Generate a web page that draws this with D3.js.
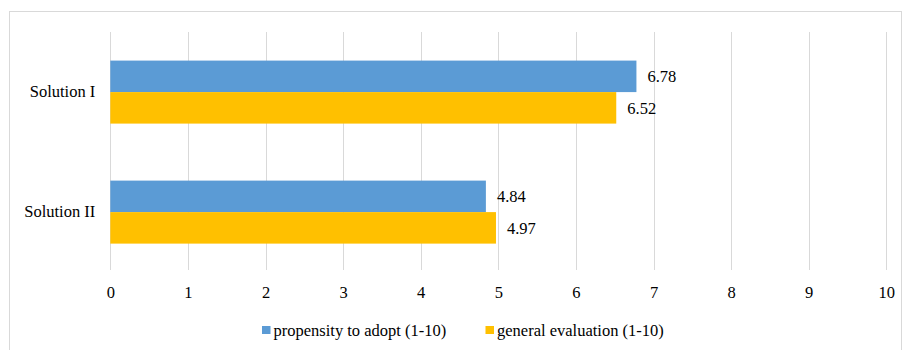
<!DOCTYPE html>
<html>
<head>
<meta charset="utf-8">
<script src="https://cdn.jsdelivr.net/npm/d3@7"></script>
<style>
  html, body { margin: 0; padding: 0; background: #fff; }
  svg { display: block; }
  svg text { font-family: "Liberation Serif", "Times New Roman", Tinos, "DejaVu Serif", serif; fill: #000; }
</style>
</head>
<body>
<script>
// Survey scores per solution
const categories = ["Solution I", "Solution II"];
const seriesNames = ["propensity to adopt (1-10)", "general evaluation (1-10)"];
const propensity = [6.78, 4.84];
const evaluation = [6.52, 4.97];
const tickValues = [0, 1, 2, 3, 4, 5, 6, 7, 8, 9, 10];
const colors = ["#5B9BD5", "#FFC000"];

const W = 903, H = 350;
const plot = { left: 110.3, right: 886.3, top: 32, bottom: 270 };
const FONT = '"Liberation Serif", "Times New Roman", Tinos, "DejaVu Serif", serif';
const FS = 16.5;

const svg = d3.select("body").append("svg").attr("width", W).attr("height", H);

// chart frame
svg.append("rect")
  .attr("x", 9.5).attr("y", 11.5)
  .attr("width", 892).attr("height", 345)
  .attr("fill", "#fff").attr("stroke", "#D9D9D9").attr("stroke-width", 1);

const x = d3.scaleLinear().domain([0, 10]).range([plot.left, plot.right]);
const y = d3.scaleBand().domain(categories).range([plot.top, plot.bottom])
  .paddingInner(0.475).paddingOuter(0.229).align(0.52);
const ySub = d3.scaleBand().domain([0, 1]).range([0, y.bandwidth()]);

// vertical gridlines
svg.append("g").selectAll("line").data(tickValues).join("line")
  .attr("x1", d => Math.round(x(d)) + 0.5).attr("x2", d => Math.round(x(d)) + 0.5)
  .attr("y1", plot.top).attr("y2", plot.bottom)
  .attr("stroke", "#D9D9D9").attr("stroke-width", 1);

// x axis labels
const xAxis = d3.axisBottom(x).tickValues(tickValues).tickSize(0).tickPadding(0).tickFormat(d3.format("d"));
const gx = svg.append("g").attr("transform", `translate(0,${plot.bottom + 16})`).call(xAxis)
  .attr("font-family", FONT);
gx.select(".domain").remove();
gx.selectAll("text").attr("font-size", FS).attr("fill", "#000");

// category labels
const yAxis = d3.axisLeft(y).tickSize(0).tickPadding(15);
const gy = svg.append("g").attr("transform", `translate(${plot.left},0)`).call(yAxis)
  .attr("font-family", FONT);
gy.select(".domain").remove();
gy.selectAll("text").attr("font-size", FS).attr("fill", "#000");

// bars and value labels
const rows = categories.map((c, i) => ({ cat: c, vals: [propensity[i], evaluation[i]] }));
const grp = svg.append("g").selectAll("g").data(rows).join("g")
  .attr("transform", d => `translate(0,${y(d.cat)})`);

grp.selectAll("rect").data(d => d.vals).join("rect")
  .attr("x", x(0))
  .attr("y", (d, i) => ySub(i))
  .attr("width", d => x(d) - x(0))
  .attr("height", ySub.bandwidth())
  .attr("fill", (d, i) => colors[i]);

grp.selectAll("text.val").data(d => d.vals).join("text")
  .attr("class", "val")
  .attr("x", d => x(d) + 11)
  .attr("y", (d, i) => ySub(i) + ySub.bandwidth() / 2)
  .attr("dy", "0.35em")
  .attr("font-size", FS)
  .text(d => d.toFixed(2));

// legend
const legendX = [262, 485.5];
const lg = svg.append("g").selectAll("g").data(seriesNames).join("g")
  .attr("transform", (d, i) => `translate(${legendX[i]},326)`);
lg.append("rect").attr("width", 8.5).attr("height", 8).attr("fill", (d, i) => colors[i]);
lg.append("text").attr("x", 11.5).attr("y", 4.5).attr("dy", "0.35em")
  .attr("font-size", FS).text(d => d);
</script>
</body>
</html>
